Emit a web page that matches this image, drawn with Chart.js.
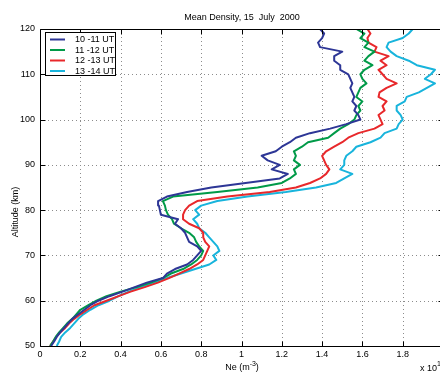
<!DOCTYPE html>
<html><head><meta charset="utf-8">
<script src="https://cdn.jsdelivr.net/npm/chart.js@4.4.1/dist/chart.umd.min.js"></script>
<style>html,body{margin:0;padding:0;overflow:hidden;background:#fff;width:440px;height:373px}canvas{display:block}</style>
</head><body>
<canvas id="c" width="446" height="373" style="width:446px;height:373px"></canvas>
<script>
// Altitude (km) – y categories
const altitudes = [50,51,52,53,54,55,56,57,58,59,60,61,62,63,64,65,66,67,68,69,70,71,72,73,74,75,76,77,78,79,80,81,82,83,84,85,86,87,88,89,90,91,92,93,94,95,96,97,98,99,100,101,102,103,104,105,106,107,108,109,110,111,112,113,114,115,116,117,118,119,120];
// Ne in units of 1e19 m^-3
const ut10_11 = [0.055,0.07,0.083,0.10,0.12,0.14,0.16,0.19,0.22,0.25,0.29,0.345,0.41,0.47,0.53,0.61,0.63,0.67,0.73,0.76,0.78,0.80,0.78,0.74,0.73,0.72,0.70,0.67,0.685,0.60,0.595,0.59,0.586,0.63,0.73,0.85,1.02,1.19,1.23,1.15,1.19,1.13,1.10,1.17,1.20,1.24,1.27,1.34,1.44,1.52,1.59,1.58,1.56,1.57,1.55,1.56,1.55,1.54,1.55,1.54,1.53,1.49,1.49,1.46,1.46,1.50,1.39,1.38,1.40,1.41,1.39];
const ut11_12 = [0.05,0.065,0.078,0.095,0.115,0.135,0.16,0.18,0.20,0.24,0.28,0.33,0.40,0.48,0.55,0.61,0.65,0.71,0.75,0.78,0.80,0.81,0.79,0.775,0.765,0.74,0.70,0.665,0.655,0.635,0.625,0.62,0.61,0.66,0.88,1.08,1.20,1.24,1.27,1.26,1.29,1.26,1.27,1.26,1.30,1.33,1.43,1.46,1.49,1.53,1.56,1.57,1.59,1.58,1.60,1.57,1.58,1.59,1.62,1.60,1.59,1.61,1.65,1.61,1.63,1.66,1.61,1.63,1.59,1.61,1.57];
const ut12_13 = [0.05,0.065,0.08,0.10,0.125,0.145,0.17,0.20,0.235,0.27,0.33,0.39,0.45,0.52,0.585,0.64,0.69,0.74,0.78,0.81,0.82,0.83,0.84,0.82,0.81,0.81,0.79,0.74,0.71,0.71,0.72,0.74,0.78,0.93,1.14,1.27,1.34,1.39,1.42,1.436,1.42,1.41,1.40,1.42,1.46,1.50,1.53,1.58,1.66,1.70,1.69,1.68,1.71,1.70,1.72,1.68,1.685,1.72,1.77,1.72,1.70,1.68,1.72,1.69,1.73,1.66,1.67,1.63,1.625,1.64,1.625];
const ut13_14 = [0.083,0.095,0.105,0.125,0.15,0.17,0.19,0.215,0.25,0.29,0.345,0.39,0.44,0.50,0.57,0.63,0.70,0.77,0.84,0.875,0.86,0.89,0.88,0.86,0.84,0.82,0.79,0.78,0.76,0.79,0.77,0.80,0.88,1.03,1.22,1.37,1.47,1.51,1.55,1.49,1.51,1.51,1.52,1.55,1.57,1.64,1.69,1.71,1.77,1.78,1.80,1.79,1.77,1.77,1.81,1.82,1.88,1.92,1.96,1.91,1.94,1.96,1.87,1.83,1.77,1.74,1.72,1.73,1.80,1.83,1.85];
const seriesLabels = ['10 -11 UT','11 -12 UT','12 -13 UT','13 -14 UT'];
const xTickValues = [0,0.2,0.4,0.6,0.8,1,1.2,1.4,1.6,1.8,2];
const yTickValues = [50,60,70,80,90,100,110,120];

const FONT = '"Liberation Sans", Arial, Helvetica, sans-serif';
const colors = ['#2d3696','#009a48','#e8282b','#18b4dc'];
const seriesValues = [ut10_11, ut11_12, ut12_13, ut13_14];

const deco = {
  id: 'deco',
  beforeDatasetsDraw(chart) {
    const {ctx, chartArea: a, scales: {x, y}} = chart;
    ctx.save();
    ctx.strokeStyle = '#8c8c8c'; ctx.lineWidth = 1; ctx.setLineDash([1, 3]);
    ctx.beginPath();
    x.ticks.forEach(t => {
      const px = Math.round(x.getPixelForValue(t.value)) + 0.5;
      if (px <= a.left + 1 || px >= a.right - 1) return;
      ctx.moveTo(px, a.top); ctx.lineTo(px, a.bottom);
    });
    y.ticks.forEach(t => {
      const py = Math.round(y.getPixelForValue(t.value)) + 0.5;
      if (py <= a.top + 1 || py >= a.bottom - 1) return;
      ctx.moveTo(a.left, py); ctx.lineTo(a.right, py);
    });
    ctx.stroke();
    ctx.restore();
  },
  afterDatasetsDraw(chart) {
    const {ctx, chartArea: a, scales: {x, y}} = chart;
    ctx.save();
    ctx.strokeStyle = '#000'; ctx.lineWidth = 1; ctx.setLineDash([]);
    const L = Math.round(a.left) + 0.5, T = Math.round(a.top) + 0.5, B = Math.round(a.bottom) + 0.5, R = Math.round(a.right) + 0.5;
    ctx.beginPath();
    ctx.moveTo(R, T); ctx.lineTo(L, T); ctx.lineTo(L, B); ctx.lineTo(R, B); ctx.lineTo(R, T);
    // inside tick marks
    x.ticks.forEach(t => {
      const px = Math.round(x.getPixelForValue(t.value)) + 0.5;
      ctx.moveTo(px, B); ctx.lineTo(px, B - 5);
      ctx.moveTo(px, T); ctx.lineTo(px, T + 5);
    });
    y.ticks.forEach(t => {
      const py = Math.round(y.getPixelForValue(t.value)) + 0.5;
      ctx.moveTo(L, py); ctx.lineTo(L + 5, py);
      ctx.moveTo(R, py); ctx.lineTo(R - 5, py);
    });
    ctx.stroke();

    // legend
    const bx = 45.5, by = 32.5, bw = 70, bh = 43;
    ctx.fillStyle = '#fff'; ctx.fillRect(bx, by, bw, bh);
    ctx.strokeRect(bx, by, bw, bh);
    const rows = [39.5, 50, 60.5, 71];
    ctx.font = '9px ' + FONT; ctx.textBaseline = 'middle'; ctx.textAlign = 'left';
    chart.data.datasets.forEach((ds, i) => {
      ctx.strokeStyle = ds.borderColor; ctx.lineWidth = 2;
      ctx.beginPath(); ctx.moveTo(50, rows[i]); ctx.lineTo(65, rows[i]); ctx.stroke();
      ctx.fillStyle = '#000';
      ctx.fillText(ds.label, 75, rows[i] + 0.5);
    });

    // titles
    ctx.fillStyle = '#000';
    ctx.font = '9px ' + FONT; ctx.textAlign = 'center'; ctx.textBaseline = 'middle';
    ctx.fillText('Mean Density, 15  July  2000', 242, 18);
    // x axis title with superscript
    const base = 'Ne (m', sup = '-3', end = ')';
    const w1 = ctx.measureText(base).width;
    ctx.font = '7px ' + FONT; const w2 = ctx.measureText(sup).width;
    ctx.font = '9px ' + FONT; const w3 = ctx.measureText(end).width;
    let sx = 242 - (w1 + w2 + w3) / 2;
    ctx.textAlign = 'left';
    ctx.fillText(base, sx, 368);
    ctx.font = '7px ' + FONT; ctx.fillText(sup, sx + w1, 364);
    ctx.font = '9px ' + FONT; ctx.fillText(end, sx + w1 + w2, 368);
    // exponent note
    ctx.fillText('x 10', 420, 369);
    const w4 = ctx.measureText('x 10').width;
    ctx.font = '7px ' + FONT; ctx.fillText('19', 420 + w4, 364);
    // y axis title
    ctx.font = '9px ' + FONT; ctx.textAlign = 'center';
    ctx.translate(16, 212); ctx.rotate(-Math.PI / 2);
    ctx.fillText('Altitude (km)', 0, 0);
    ctx.restore();
  }
};

new Chart(document.getElementById('c'), {
  type: 'scatter',
  data: {
    datasets: seriesValues.map((vals, i) => ({
      label: seriesLabels[i],
      data: altitudes.map((h, j) => ({x: vals[j], y: h})),
      showLine: true, borderColor: colors[i], backgroundColor: colors[i],
      borderWidth: 2, pointRadius: 0, tension: 0, borderJoinStyle: 'round'
    }))
  },
  options: {
    responsive: false, animation: false, devicePixelRatio: 1,
    layout: {padding: {top: 29, right: 3, left: 0, bottom: 0}},
    plugins: {legend: {display: false}, tooltip: {enabled: false}, title: {display: false}},
    scales: {
      x: {
        type: 'linear', min: 0, max: 2,
        afterBuildTicks: s => { s.ticks = xTickValues.map(v => ({value: v})); },
        afterFit: s => { s.height = 27; },
        grid: {display: false, drawTicks: false}, border: {display: false},
        ticks: {autoSkip: false, maxRotation: 0, padding: 3, color: '#000', font: {size: 9, family: FONT},
          callback: v => { const r = Math.round(v * 10) / 10; return r >= 2 ? '' : String(r); }}
      },
      y: {
        type: 'linear', min: 50, max: 120,
        afterBuildTicks: s => { s.ticks = yTickValues.map(v => ({value: v})); },
        afterFit: s => { s.width = 40; },
        grid: {display: false, drawTicks: false}, border: {display: false},
        ticks: {autoSkip: false, padding: 5, color: '#000', font: {size: 9, family: FONT}}
      }
    }
  },
  plugins: [deco]
});
</script>
</body></html>
